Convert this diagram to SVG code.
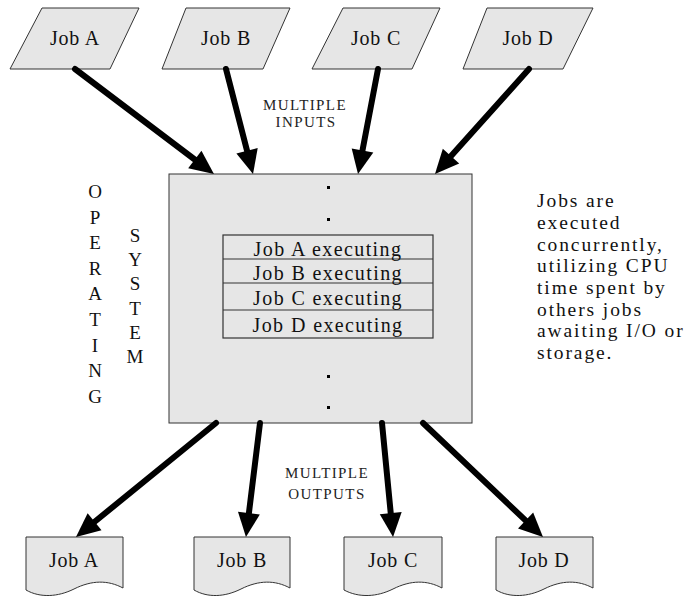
<svg xmlns="http://www.w3.org/2000/svg" width="688" height="597" viewBox="0 0 688 597" font-family="'Liberation Serif', 'DejaVu Serif', serif">
  <defs>
    <style>
      .shape { fill: #e6e6e6; stroke: #333; stroke-width: 1; }
      .row { fill: none; stroke: #333; stroke-width: 1.2; }
      text { font-family: 'Liberation Serif', 'DejaVu Serif', serif; }
      .lbl { font-size: 20px; fill: #111; text-anchor: middle; letter-spacing: 0.8px; }
      .exec { font-size: 20px; fill: #111; text-anchor: middle; letter-spacing: 1.4px; }
      .caps { font-size: 15px; fill: #222; text-anchor: middle; letter-spacing: 1.4px; }
      .vert { font-size: 19px; fill: #111; text-anchor: middle; }
      .note { font-size: 19.5px; fill: #111; letter-spacing: 1.9px; }
      .arrow { fill: none; stroke: #000; stroke-width: 6; stroke-linecap: round; marker-end: url(#head); }
      .dot { fill: #000; }
    </style>
    <marker id="head" markerUnits="userSpaceOnUse" markerWidth="24" markerHeight="22" refX="9" refY="11" orient="auto" overflow="visible">
      <path d="M0,0 L24,11 L0,22 Z" fill="#000"/>
    </marker>
  </defs>

  <!-- input jobs -->
  <g id="in-a">
    <polygon class="shape" points="42,8 139,8 110,69 10,69"/>
    <text class="lbl" x="75" y="45">Job A</text>
  </g>
  <g id="in-b">
    <polygon class="shape" points="186,8 290,8 263,69 162,69"/>
    <text class="lbl" x="226" y="45">Job B</text>
  </g>
  <g id="in-c">
    <polygon class="shape" points="343,8 440,8 412,69 312,69"/>
    <text class="lbl" x="376" y="45">Job C</text>
  </g>
  <g id="in-d">
    <polygon class="shape" points="487,8 593,8 563,69 463,69"/>
    <text class="lbl" x="528" y="45">Job D</text>
  </g>

  <!-- operating system box -->
  <g id="os">
    <rect class="shape" x="169" y="174" width="303" height="249" stroke="#444"/>
    <rect class="dot" x="327" y="186" width="3" height="3"/>
    <rect class="dot" x="327" y="218" width="3" height="3"/>
    <rect class="dot" x="327" y="375" width="3" height="3"/>
    <rect class="dot" x="327" y="406" width="3" height="3"/>
    <g id="exec-rows">
      <rect class="row" x="223" y="235" width="210" height="103"/>
      <line class="row" x1="223" y1="259" x2="433" y2="259"/>
      <line class="row" x1="223" y1="283" x2="433" y2="283"/>
      <line class="row" x1="223" y1="310" x2="433" y2="310"/>
      <text class="exec" x="328" y="256">Job A executing</text>
      <text class="exec" x="328" y="280">Job B executing</text>
      <text class="exec" x="328" y="305">Job C executing</text>
      <text class="exec" x="328" y="332">Job D executing</text>
    </g>
  </g>

  <!-- output jobs -->
  <g id="out-a">
    <path class="shape" d="M26,537 H123 V588 C108,580 92,580 74,589 C58,597 40,598 26,590 Z"/>
    <text class="lbl" x="74" y="567">Job A</text>
  </g>
  <g id="out-b">
    <path class="shape" d="M194,537 H290 V588 C275,580 259,580 241,589 C225,597 208,598 194,590 Z"/>
    <text class="lbl" x="242" y="567">Job B</text>
  </g>
  <g id="out-c">
    <path class="shape" d="M344,537 H442 V588 C427,580 411,580 393,589 C377,597 359,598 344,590 Z"/>
    <text class="lbl" x="393" y="567">Job C</text>
  </g>
  <g id="out-d">
    <path class="shape" d="M496,537 H593 V588 C578,580 562,580 544,589 C528,597 510,598 496,590 Z"/>
    <text class="lbl" x="544" y="567">Job D</text>
  </g>

  <!-- connectors -->
  <g id="connectors">
    <line class="arrow" x1="75" y1="69" x2="202" y2="165"/>
    <line class="arrow" x1="226" y1="69" x2="249.3" y2="159.5"/>
    <line class="arrow" x1="378" y1="69" x2="360.8" y2="159.3"/>
    <line class="arrow" x1="529" y1="69" x2="445" y2="162.8"/>
    <line class="arrow" x1="216" y1="423" x2="87.6" y2="527.5"/>
    <line class="arrow" x1="260" y1="423" x2="247.8" y2="522.1"/>
    <line class="arrow" x1="382" y1="423" x2="391.6" y2="522.1"/>
    <line class="arrow" x1="423" y1="423" x2="532.1" y2="526.7"/>
  </g>

  <!-- labels -->
  <text class="caps" x="305" y="110">MULTIPLE</text>
  <text class="caps" x="306" y="127">INPUTS</text>
  <text class="caps" x="327" y="478">MULTIPLE</text>
  <text class="caps" x="327" y="499">OUTPUTS</text>

  <g id="os-title">
    <text class="vert" x="95" y="198">O</text>
    <text class="vert" x="95" y="224">P</text>
    <text class="vert" x="95" y="249">E</text>
    <text class="vert" x="95" y="275">R</text>
    <text class="vert" x="95" y="300">A</text>
    <text class="vert" x="95" y="326">T</text>
    <text class="vert" x="95" y="352">I</text>
    <text class="vert" x="95" y="377">N</text>
    <text class="vert" x="95" y="403">G</text>
    <text class="vert" x="135" y="242">S</text>
    <text class="vert" x="135" y="266">Y</text>
    <text class="vert" x="135" y="290">S</text>
    <text class="vert" x="135" y="315">T</text>
    <text class="vert" x="135" y="339">E</text>
    <text class="vert" x="135" y="363">M</text>
  </g>

  <g id="note">
    <text class="note" x="537" y="207">Jobs are</text>
    <text class="note" x="537" y="229">executed</text>
    <text class="note" x="537" y="251">concurrently,</text>
    <text class="note" x="537" y="272">utilizing CPU</text>
    <text class="note" x="537" y="294">time spent by</text>
    <text class="note" x="537" y="316">others jobs</text>
    <text class="note" x="537" y="337">awaiting I/O or</text>
    <text class="note" x="537" y="359">storage.</text>
  </g>
</svg>
